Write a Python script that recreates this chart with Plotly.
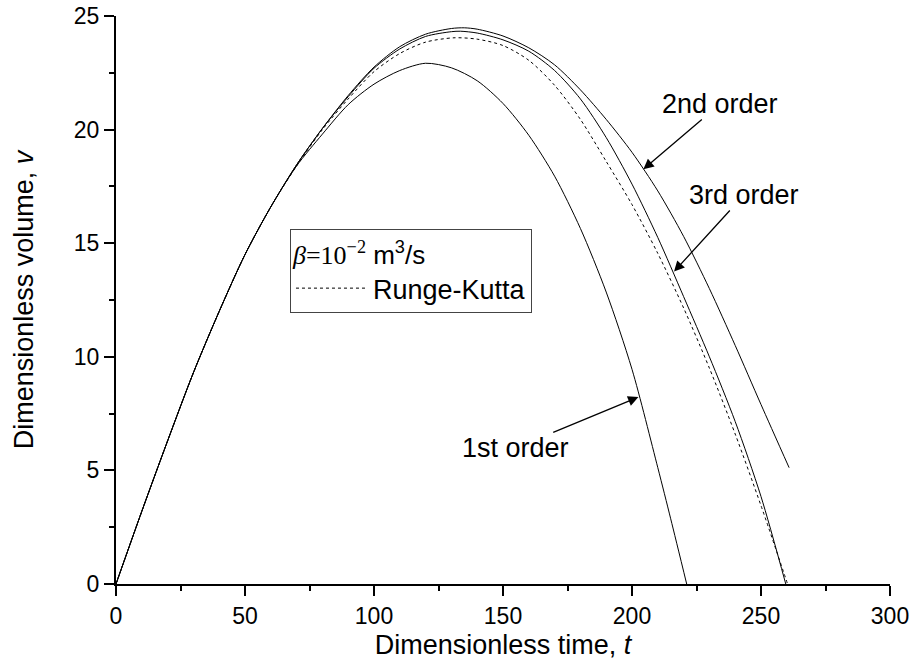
import plotly.graph_objects as go

# ---- data ----
first_t = [0, 10, 20, 30, 40, 50, 60, 70, 80, 90, 100, 110, 120, 130, 140, 150, 160, 170, 180, 190, 200, 210, 215, 221.2]
first_v = [0, 3.2, 6.3, 9.3, 12.0, 14.5, 16.6, 18.4, 19.8, 21.1, 22.0, 22.6, 22.92, 22.72, 22.15, 21.15, 19.75, 17.95, 15.65, 12.85, 9.45, 5.12, 2.87, 0]

second_t = [0, 10, 20, 30, 40, 50, 60, 70, 80, 90, 100, 110, 120, 130, 135, 140, 150, 160, 170, 180, 190, 200, 210, 220, 230, 240, 250, 260.9]
second_v = [0, 3.2, 6.3, 9.3, 12.0, 14.5, 16.6, 18.45, 20.05, 21.5, 22.75, 23.65, 24.2, 24.45, 24.48, 24.42, 24.12, 23.6, 22.85, 21.75, 20.45, 19.0, 17.3, 15.3, 13.0, 10.5, 7.9, 5.12]

third_t = [0, 10, 20, 30, 40, 50, 60, 70, 80, 90, 100, 110, 120, 130, 133.5, 140, 150, 160, 170, 180, 190, 200, 210, 220, 230, 240, 250, 259.6]
third_v = [0, 3.2, 6.3, 9.3, 12.0, 14.5, 16.6, 18.45, 20.05, 21.45, 22.7, 23.55, 24.1, 24.31, 24.33, 24.25, 23.95, 23.45, 22.6, 21.35, 19.65, 17.6, 15.25, 12.65, 10.0, 7.15, 3.85, 0]

rk_t = [0, 10, 20, 30, 40, 50, 60, 70, 80, 90, 100, 110, 120, 131, 140, 150, 160, 170, 180, 190, 200, 210, 220, 230, 240, 250, 260.3]
rk_v = [0, 3.2, 6.3, 9.3, 12.0, 14.5, 16.6, 18.4, 20.0, 21.35, 22.55, 23.35, 23.85, 24.04, 23.98, 23.7, 23.05, 21.95, 20.45, 18.6, 16.7, 14.55, 12.15, 9.5, 6.6, 3.45, 0]

x_ticks = [0, 50, 100, 150, 200, 250, 300]
y_ticks = [0, 5, 10, 15, 20, 25]

SANS = "Liberation Sans, Arial, sans-serif"

fig = go.Figure()
line_style = dict(color="black", width=1, shape="spline", smoothing=0.8)
fig.add_trace(go.Scatter(x=first_t, y=first_v, mode="lines", line=line_style, showlegend=False, name="1st order"))
fig.add_trace(go.Scatter(x=second_t, y=second_v, mode="lines", line=line_style, showlegend=False, name="2nd order"))
fig.add_trace(go.Scatter(x=third_t, y=third_v, mode="lines", line=line_style, showlegend=False, name="3rd order"))
fig.add_trace(go.Scatter(x=rk_t, y=rk_v, mode="lines", name="Runge-Kutta",
                         line=dict(color="black", width=1, dash="dot", shape="spline", smoothing=0.8)))

legend_title = ('<span style="font-family:Liberation Serif"><i>β</i>=10<sup>−2</sup></span>'
                ' m<sup>3</sup>/s')

fig.update_layout(
    width=911, height=670,
    margin=dict(l=116, r=21, t=16, b=86, autoexpand=False),
    paper_bgcolor="white", plot_bgcolor="white",
    font=dict(family=SANS, color="black", size=23),
    showlegend=True,
    legend=dict(
        x=0.2248, y=0.6245, xanchor="left", yanchor="top",
        bordercolor="#444", borderwidth=1, bgcolor="rgba(0,0,0,0)",
        font=dict(family=SANS, size=27, color="black"),
        title=dict(text=legend_title, font=dict(family=SANS, size=26, color="black"), side="top"),
        itemwidth=72, tracegroupgap=0,
    ),
    xaxis=dict(
        range=[0, 300], tickvals=x_ticks, showline=True, linecolor="black", linewidth=2,
        ticks="outside", ticklen=10, tickwidth=2, tickcolor="black", showgrid=False, zeroline=False,
        minor=dict(dtick=25, ticks="outside", ticklen=5, tickwidth=2, tickcolor="black", showgrid=False),
        tickfont=dict(size=23), automargin=False, ticklabeloverflow="allow",
        title=dict(text="Dimensionless time, <i>t</i>", font=dict(size=27), standoff=8),
    ),
    yaxis=dict(
        range=[0, 25], tickvals=y_ticks, showline=True, linecolor="black", linewidth=2,
        ticks="outside", ticklen=10, tickwidth=2, tickcolor="black", showgrid=False, zeroline=False,
        minor=dict(dtick=2.5, ticks="outside", ticklen=5, tickwidth=2, tickcolor="black", showgrid=False),
        tickfont=dict(size=23), automargin=False, ticklabeloverflow="allow",
        title=dict(text="Dimensionless volume, <i>v</i>", font=dict(size=27), standoff=32),
    ),
)

# labels with arrows pointing at the curves
lab = dict(showarrow=True, arrowhead=2, arrowsize=1.6, arrowwidth=1.3, arrowcolor="black",
           axref="x", ayref="y", xref="x", yref="y", borderpad=0, standoff=0,
           font=dict(family=SANS, size=27, color="black"))
fig.add_annotation(x=204.4, y=18.25, ax=234.1, ay=21.13, text="2nd order", **lab)
fig.add_annotation(x=216.3, y=13.75, ax=243.4, ay=17.12, text="3rd order", **lab)
fig.add_annotation(x=202.5, y=8.23, ax=155.0, ay=5.99, text="1st order", **lab)

# remove the default page margin so the 911x670 figure fills the window exactly
fig.write_html("out.html", config={"displayModeBar": False},
               post_script="document.body.style.margin='0';document.body.style.overflow='hidden';")
